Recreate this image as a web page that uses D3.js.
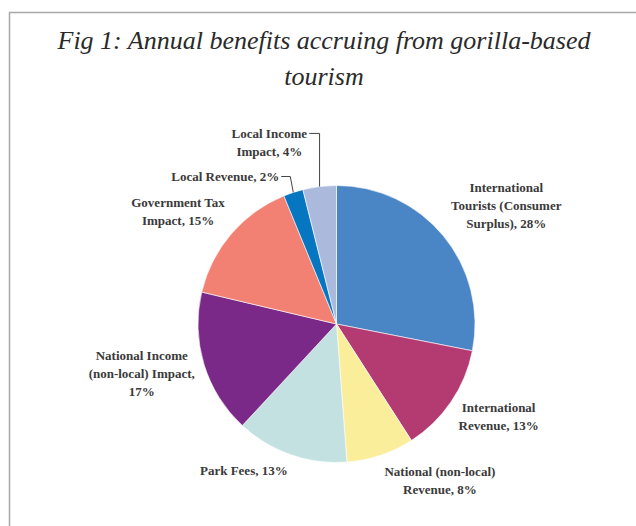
<!DOCTYPE html>
<html>
<head>
<meta charset="utf-8">
<script src="https://cdn.jsdelivr.net/npm/d3@7"></script>
<style>
  body { margin: 0; background: #fff; }
  .title { font-family: "Liberation Serif", "DejaVu Serif", serif; font-style: italic; fill: #2a2a2a; }
  .label { font-family: "Liberation Serif", "DejaVu Serif", serif; font-weight: bold; font-size: 13px; fill: #3a3a3a; }
</style>
</head>
<body>
<div id="chart"></div>
<script>
// data
var categories = [
  'International Tourists (Consumer Surplus)',
  'International Revenue',
  'National (non-local) Revenue',
  'Park Fees',
  'National Income (non-local) Impact',
  'Government Tax Impact',
  'Local Revenue',
  'Local Income Impact'
];
var shares  = [28.1, 12.8, 7.9, 13.1, 16.8, 15.1, 2.3, 3.9];
var colours = ['#4a86c6', '#b43a72', '#fbee9b', '#c2e1e0', '#7a2988', '#f28174', '#0676c1', '#aab9dc'];

// how each label is broken into lines
var labelLines = [
  ['International', 'Tourists (Consumer', 'Surplus), {p}'],
  ['International', 'Revenue, {p}'],
  ['National (non-local)', 'Revenue, {p}'],
  ['Park Fees, {p}'],
  ['National Income', '(non-local) Impact,', '{p}'],
  ['Government Tax', 'Impact, {p}'],
  ['Local Revenue, {p}'],
  ['Local Income', 'Impact, {p}']
];

var titleLines = ['Fig 1: Annual benefits accruing from gorilla-based', 'tourism'];

// layout
var W = 636, H = 526;
var cx = 336.5, cy = 324, radius = 138.5;
var labelRadius = 190;
var labelNudge = [[23, 2], [5, -14], [43, -24], [-30, -33], [-13, -6], [-14, 11], [-52, 33], [-44, 7]];
var lineH = 18;
var leader = [false, false, false, false, false, false, true, true];
var leaderSlant = [0, 0, 0, 0, 0, 0, 3, 0];

var svg = d3.select('#chart').append('svg')
    .attr('width', W)
    .attr('height', H);

// frame
svg.append('rect')
   .attr('x', 9.5).attr('y', 12.5)
   .attr('width', W + 10).attr('height', H + 10)
   .attr('fill', 'none')
   .attr('stroke', '#a8a8a8')
   .attr('stroke-width', 1.5);

// title
svg.selectAll('text.title')
   .data(titleLines)
   .enter().append('text')
   .attr('class', 'title')
   .attr('x', 324)
   .attr('y', function (d, i) { return 49 + i * 36; })
   .attr('text-anchor', 'middle')
   .style('font-size', '26px')
   .text(function (d) { return d; });

var pie = d3.pie().sort(null).value(function (d) { return d; });
var arcs = pie(shares);

var arc = d3.arc().innerRadius(0).outerRadius(radius);
var edgeArc = d3.arc().innerRadius(radius).outerRadius(radius);
var labelArc = d3.arc().innerRadius(labelRadius).outerRadius(labelRadius);

var g = svg.append('g').attr('transform', 'translate(' + cx + ',' + cy + ')');

g.selectAll('path.slice')
 .data(arcs)
 .enter().append('path')
 .attr('class', 'slice')
 .attr('d', arc)
 .attr('fill', function (d, i) { return colours[i]; })
 .attr('stroke', '#fff')
 .attr('stroke-width', 0.6);

// labels
arcs.forEach(function (a, i)
{
    var c = labelArc.centroid(a);
    var x = c[0] + labelNudge[i][0];
    var y = c[1] + labelNudge[i][1];
    var pct = Math.round(shares[i]) + '%';
    var lines = labelLines[i].map(function (s) { return s.replace('{p}', pct); });
    var y0 = y - (lines.length - 1) * lineH / 2 + 4.5;

    var t = g.append('text')
             .attr('class', 'label')
             .attr('text-anchor', 'middle');

    lines.forEach(function (s, k)
    {
        t.append('tspan')
         .attr('x', x)
         .attr('y', y0 + k * lineH)
         .text(s);
    });

    if (leader[i])
    {
        var bb = t.node().getBBox();
        var e = edgeArc.centroid(a);
        var ly = y - (lines.length - 1) * lineH / 2;   // middle of the first line
        var pts = [[bb.x + bb.width + 2, ly], [e[0] - leaderSlant[i], ly], [e[0], e[1]]];
        g.append('path')
         .attr('d', d3.line()(pts))
         .attr('fill', 'none')
         .attr('stroke', '#444')
         .attr('stroke-width', 1);
    }
});
</script>
</body>
</html>
